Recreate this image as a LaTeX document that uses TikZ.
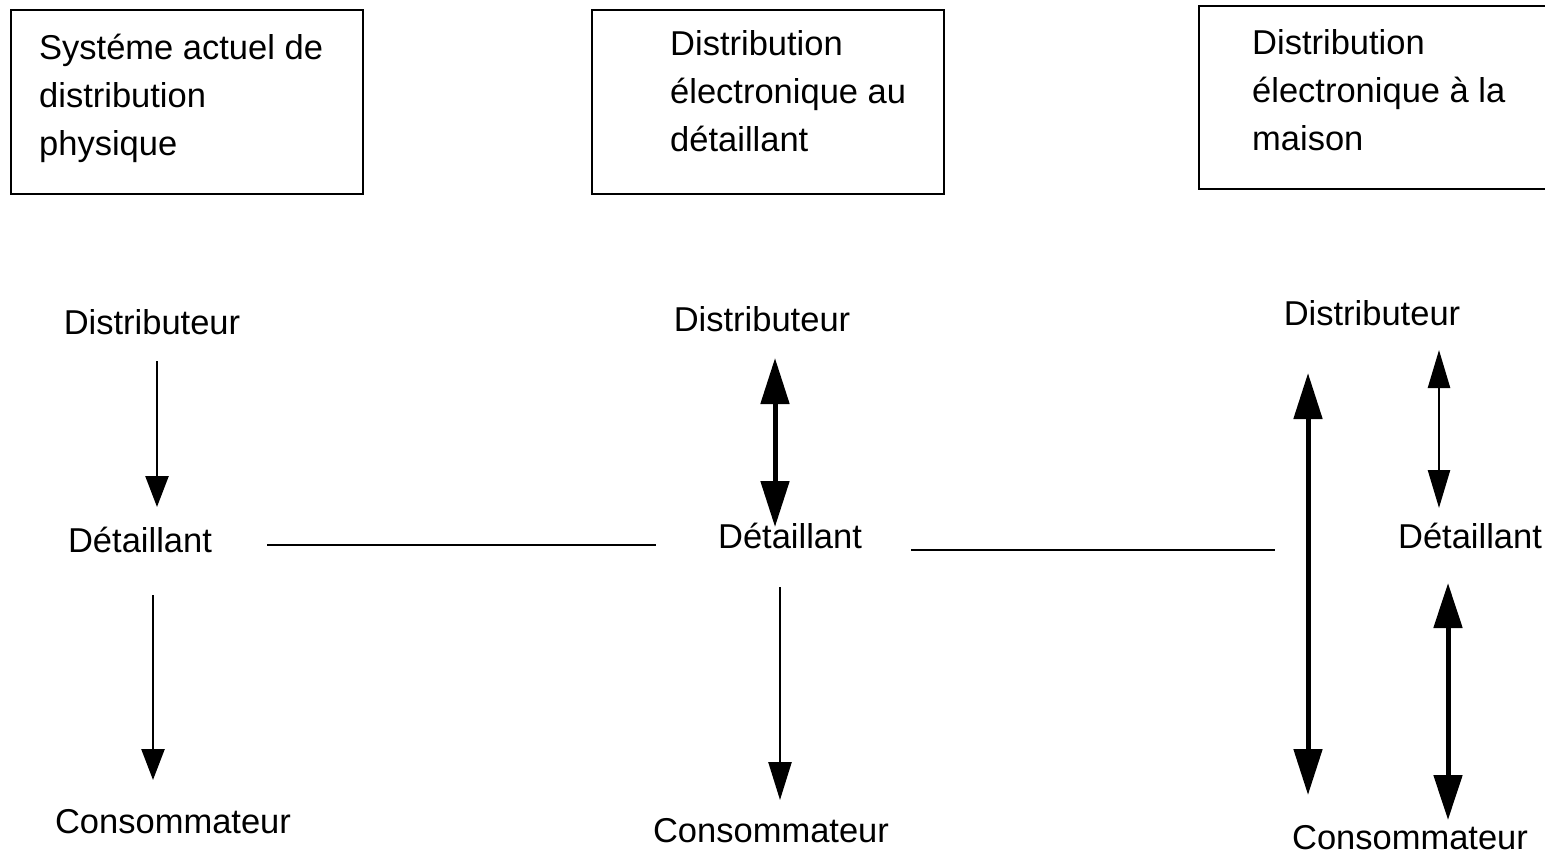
\documentclass[tikz,border=0pt]{standalone}
\usepackage{fontspec}
\setmainfont{Liberation Sans}
\usetikzlibrary{arrows.meta}
\begin{document}
\begin{tikzpicture}[x=1pt,y=-1pt,
  frame/.style={draw=black,line width=2pt},
  boxtext/.style={anchor=base west,inner sep=0pt,font=\fontsize{34.5}{48}\selectfont},
  label/.style={anchor=center,inner sep=0pt,font=\fontsize{34.5}{40}\selectfont},
  thin/.style={line width=2.5pt},
  thick/.style={line width=5pt},
  smalltip/.style={-{Triangle[length=31pt,width=23pt]}},
  bigtip/.style={{Triangle[length=46pt,width=28pt]}-{Triangle[length=46pt,width=28pt]}},
  midtip/.style={{Triangle[length=38pt,width=22pt]}-{Triangle[length=38pt,width=22pt]}}]
\useasboundingbox (0,0) rectangle (1545,856);
\fill[white] (0,0) rectangle (1545,856);

% header boxes
\draw[frame] (11,10) rectangle (363,194);
\node[boxtext] (h1a) at (39,60) {Systéme actuel de};
\node[boxtext] (h1b) at (39,108) {distribution};
\node[boxtext] (h1c) at (39,156) {physique};

\draw[frame] (592,10) rectangle (944,194);
\node[boxtext] (h2a) at (670,56) {Distribution};
\node[boxtext] (h2b) at (670,104) {électronique au};
\node[boxtext] (h2c) at (670,152) {détaillant};

\draw[frame] (1199,6) rectangle (1560,189);
\node[boxtext] (h3a) at (1252,55) {Distribution};
\node[boxtext] (h3b) at (1252,103) {électronique à la};
\node[boxtext] (h3c) at (1252,151) {maison};

% column 1: physical distribution
\node[label] (d1) at (152,322) {Distributeur};
\node[label] (r1) at (140,540) {Détaillant};
\node[label] (c1) at (173,822) {Consommateur};
\coordinate (a1s) at (157,361); \coordinate (a1e) at (157,507);
\coordinate (b1s) at (153,595); \coordinate (b1e) at (153,780);
\draw[thin,smalltip] (a1s) -- (a1e);
\draw[thin,smalltip] (b1s) -- (b1e);

% column 2: electronic distribution to the retailer
\node[label] (d2) at (762,319) {Distributeur};
\node[label] (r2) at (790,536) {Détaillant};
\node[label] (c2) at (771,831) {Consommateur};
\coordinate (a2s) at (775,358); \coordinate (a2e) at (775,527);
\coordinate (b2s) at (780,587); \coordinate (b2e) at (780,800);
\draw[thick,bigtip] (a2s) -- (a2e);
\draw[thin,-{Triangle[length=38pt,width=23pt]}] (b2s) -- (b2e);

% column 3: electronic distribution to the home
\node[label] (d3) at (1372,313) {Distributeur};
\node[label] (r3) at (1470,536) {Détaillant};
\node[label] (c3) at (1410,838) {Consommateur};
\coordinate (l3s) at (1308,373); \coordinate (l3e) at (1308,795);
\coordinate (a3s) at (1439,350); \coordinate (a3e) at (1439,508);
\coordinate (b3s) at (1448,583); \coordinate (b3e) at (1448,820);
\draw[thick,bigtip] (l3s) -- (l3e);
\draw[thin,midtip] (a3s) -- (a3e);
\draw[thick,{Triangle[length=45pt,width=28pt]}-{Triangle[length=45pt,width=28pt]}] (b3s) -- (b3e);

% links between the retailers
\coordinate (h1s) at (267,545); \coordinate (h1e) at (656,545);
\coordinate (h2s) at (911,550); \coordinate (h2e) at (1275,550);
\draw[thin] (h1s) -- (h1e);
\draw[thin] (h2s) -- (h2e);
\end{tikzpicture}
\end{document}
